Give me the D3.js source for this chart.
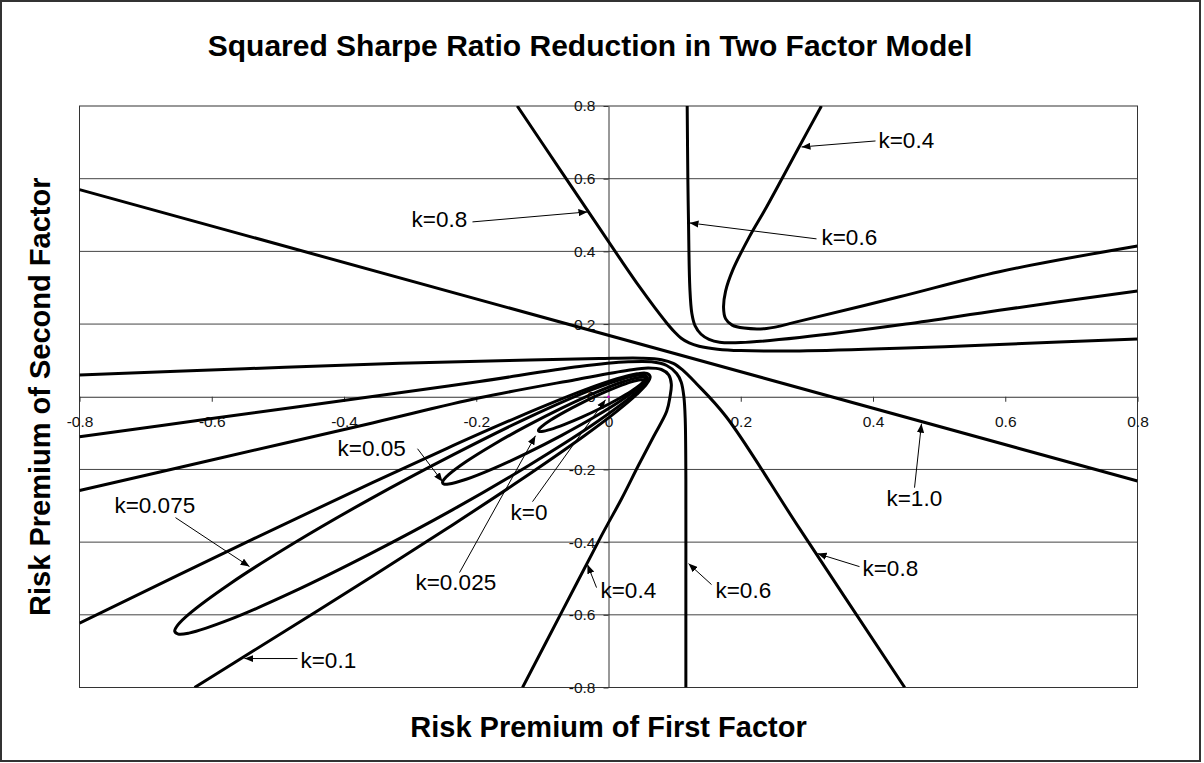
<!DOCTYPE html>
<html>
<head>
<meta charset="utf-8">
<script src="https://cdn.jsdelivr.net/npm/d3@7"></script>
<style>
  html, body { margin: 0; padding: 0; background: #fff; }
  svg { display: block; }
</style>
</head>
<body>
<svg id="chart" width="1204" height="763"></svg>
<script>
// ---------------- DATA ----------------
const xTicks = [-0.8, -0.6, -0.4, -0.2, 0, 0.2, 0.4, 0.6, 0.8];
const xTickLabels = ["-0.8", "-0.6", "-0.4", "-0.2", "0", "0.2", "0.4", "0.6", "0.8"];
const yTicks = [-0.8, -0.6, -0.4, -0.2, 0, 0.2, 0.4, 0.6, 0.8];
const yTickLabels = ["-0.8", "-0.6", "-0.4", "-0.2", "0", "0.2", "0.4", "0.6", "0.8"];
const gridY = [-0.6, -0.4, -0.2, 0.2, 0.4, 0.6];

// k = 1.0 (straight line)
const k10 = [[-0.8, 0.57], [0.8, -0.232]];

// k = 0.8 : upper branch and lower branch
const k08Upper = [[-0.138, 0.8], [-0.07, 0.616], [-0.02, 0.481], [0.02, 0.373], [0.047, 0.302],
  [0.07, 0.245], [0.088, 0.203], [0.1, 0.178], [0.11, 0.161], [0.122, 0.148], [0.137, 0.139],
  [0.165, 0.131], [0.2, 0.127], [0.289, 0.126], [0.45, 0.134], [0.591, 0.144], [0.8, 0.159]];
const k08Lower = [[-0.8, 0.06], [-0.55, 0.077], [-0.316, 0.092], [-0.15, 0.1], [-0.014, 0.105],
  [0.05, 0.106], [0.08, 0.102], [0.098, 0.092], [0.112, 0.074], [0.132, 0.038], [0.178, -0.055],
  [0.289, -0.363], [0.448, -0.8]];

// k = 0.6
const k06Upper = [[0.119, 0.8], [0.12, 0.6], [0.121, 0.48], [0.123, 0.3], [0.126, 0.23], [0.131, 0.195],
  [0.14, 0.172], [0.152, 0.158], [0.168, 0.15], [0.2, 0.149], [0.289, 0.163], [0.45, 0.2],
  [0.591, 0.238], [0.8, 0.291]];
const k06Lower = [[-0.8, -0.11], [-0.6, -0.06], [-0.316, 0.011], [-0.195, 0.042], [-0.044, 0.083],
  [0.03, 0.096], [0.065, 0.096], [0.088, 0.086], [0.103, 0.064], [0.11, 0.04], [0.114, 0.0],
  [0.116, -0.06], [0.117, -0.228], [0.117, -0.5], [0.117, -0.8]];

// k = 0.4
const k04Upper = [[0.322, 0.8], [0.289, 0.69], [0.239, 0.522], [0.213, 0.44], [0.188, 0.349],
  [0.177, 0.29], [0.174, 0.245], [0.177, 0.215], [0.187, 0.197], [0.205, 0.189], [0.239, 0.188],
  [0.289, 0.208], [0.44, 0.275], [0.591, 0.344], [0.8, 0.415]];
const k04Lower = [[-0.8, -0.258], [-0.6, -0.174], [-0.357, -0.072], [-0.195, -0.003], [-0.05, 0.047],
  [0.03, 0.073], [0.06, 0.079], [0.08, 0.075], [0.091, 0.06], [0.095, 0.035], [0.093, 0.0],
  [0.088, -0.04], [0.068, -0.11], [0.045, -0.19], [0.02, -0.28], [-0.01, -0.38], [-0.07, -0.59],
  [-0.13, -0.8]];

// k = 0.1 (open, leaves the plot at lower left)
const k01 = [[-0.8, -0.623], [-0.537, -0.391], [-0.357, -0.236], [-0.237, -0.136], [-0.137, -0.056],
  [-0.037, 0.018], [0.013, 0.0495], [0.043, 0.0631], [0.058, 0.0641], [0.063, 0.055], [0.058, 0.0359],
  [0.043, 0.0069], [0.013, -0.0395], [-0.037, -0.1079], [-0.137, -0.234], [-0.237, -0.354],
  [-0.357, -0.494], [-0.537, -0.699], [-0.626, -0.8]];

// k = 0.075 (closed)
const k0075 = [[0.059, 0.052], [0.0536, 0.0601], [0.0375, 0.0573], [-0.025, 0.0197], [-0.12, -0.056],
  [-0.236, -0.1606], [-0.3606, -0.2816], [-0.4773, -0.4045], [-0.5723, -0.5143], [-0.6345, -0.5979],
  [-0.6506, -0.6265], [-0.656, -0.645], [-0.6506, -0.6531], [-0.6345, -0.6503], [-0.5723, -0.6127],
  [-0.4773, -0.5371], [-0.3606, -0.4324], [-0.236, -0.3114], [-0.12, -0.1885], [-0.025, -0.0787],
  [0.0375, 0.0049], [0.0536, 0.0335]];

// k = 0.05 (closed)
const k005 = [[0.056, 0.0489], [0.0537, 0.0534], [0.0467, 0.0533], [0.0201, 0.040], [-0.0207, 0.0107],
  [-0.0708, -0.0313], [-0.1242, -0.0809], [-0.1743, -0.1319], [-0.2151, -0.1782], [-0.2417, -0.2143],
  [-0.2487, -0.2272], [-0.251, -0.2359], [-0.2487, -0.2404], [-0.2417, -0.2403], [-0.2151, -0.227],
  [-0.1743, -0.1977], [-0.1242, -0.1557], [-0.0708, -0.1061], [-0.0207, -0.0551], [0.0201, -0.0088],
  [0.0467, 0.0273], [0.0537, 0.0402]];

// k = 0.025 (closed)
const k0025 = [[0.053, 0.044], [0.0518, 0.0465], [0.0482, 0.0467], [0.0344, 0.0409], [0.0133, 0.0271],
  [-0.0127, 0.0071], [-0.0403, -0.0167], [-0.0663, -0.0415], [-0.0874, -0.0641], [-0.1012, -0.0821],
  [-0.1048, -0.0885], [-0.106, -0.093], [-0.1048, -0.0955], [-0.1012, -0.0957], [-0.0874, -0.0899],
  [-0.0663, -0.0761], [-0.0403, -0.0561], [-0.0127, -0.0323], [0.0133, -0.0075], [0.0344, 0.0151],
  [0.0482, 0.0331], [0.0518, 0.0395]];

// k = 0 (single point)
const k0 = [[0, 0]];

// annotation labels: text, text anchor (data units), arrow start and arrow tip (data units)
const annotations = [
  { text: "k=0.4",   t: [0.4083, 0.7065],   a: [0.4038, 0.7038],   b: [0.2919, 0.6873] },
  { text: "k=0.6",   t: [0.3221, 0.4399],   a: [0.3146, 0.4344],   b: [0.1225, 0.4784] },
  { text: "k=0.8",   t: [-0.2979, 0.4893],  a: [-0.2057, 0.4811],  b: [-0.0318, 0.5086] },
  { text: "k=1.0",   t: [0.4204, -0.2777],  a: [0.4628, -0.2502],  b: [0.4733, -0.0742] },
  { text: "k=0.8",   t: [0.3841, -0.4701],  a: [0.3796, -0.4674],  b: [0.3161, -0.4316] },
  { text: "k=0.6",   t: [0.1618, -0.5306],  a: [0.1558, -0.5168],  b: [0.121, -0.4591] },
  { text: "k=0.4",   t: [-0.0121, -0.5306], a: [-0.0181, -0.5251], b: [-0.0318, -0.4619] },
  { text: "k=0.025", t: [-0.2919, -0.5086], a: [-0.2253, -0.4838], b: [-0.1104, -0.1072] },
  { text: "k=0",     t: [-0.1482, -0.3162], a: [-0.1149, -0.2887], b: [-0.0045, -0.0082] },
  { text: "k=0.05",  t: [-0.4098, -0.1402], a: [-0.2888, -0.143],  b: [-0.251, -0.2337] },
  { text: "k=0.075", t: [-0.7471, -0.2969], a: [-0.6548, -0.3326], b: [-0.5429, -0.4674] },
  { text: "k=0.1",   t: [-0.4658, -0.723],  a: [-0.4703, -0.7203], b: [-0.5505, -0.7203] }
];

const openCurves = [k10, k08Upper, k08Lower, k06Upper, k06Lower, k04Upper, k04Lower, k01];
const closedCurves = [k0075, k005, k0025];

// ---------------- DRAW ----------------
const FONT = "'Liberation Sans', Arial, Helvetica, sans-serif";
const svg = d3.select("#chart");

const x = d3.scaleLinear().domain([-0.8, 0.8]).range([79.5, 1137.5]);
const y = d3.scaleLinear().domain([-0.8, 0.8]).range([687.5, 106]);

// outer chart border
svg.append("rect")
  .attr("x", 1).attr("y", 1).attr("width", 1199).attr("height", 760)
  .attr("fill", "#fff").attr("stroke", "#333").attr("stroke-width", 2);

// plot area
svg.append("defs").append("clipPath").attr("id", "plotclip")
  .append("rect")
  .attr("x", x(-0.8)).attr("y", y(0.8))
  .attr("width", x(0.8) - x(-0.8)).attr("height", y(-0.8) - y(0.8));

// horizontal gridlines
svg.append("g").selectAll("line").data(gridY).join("line")
  .attr("x1", x(-0.8)).attr("x2", x(0.8))
  .attr("y1", d => y(d)).attr("y2", d => y(d))
  .attr("stroke", "#444").attr("stroke-width", 1);

// plot border
svg.append("rect")
  .attr("x", x(-0.8)).attr("y", y(0.8))
  .attr("width", x(0.8) - x(-0.8)).attr("height", y(-0.8) - y(0.8))
  .attr("fill", "none").attr("stroke", "#333").attr("stroke-width", 1);

// axes through origin
const xAxis = d3.axisBottom(x).tickValues(xTicks).tickFormat((d, i) => xTickLabels[i])
  .tickSize(5).tickSizeOuter(0).tickPadding(14);
const yAxis = d3.axisLeft(y).tickValues(yTicks).tickFormat((d, i) => yTickLabels[i])
  .tickSize(5).tickSizeOuter(0).tickPadding(8);

const gx = svg.append("g").attr("transform", `translate(0,${y(0)})`).call(xAxis);
const gy = svg.append("g").attr("transform", `translate(${x(0)},0)`).call(yAxis);
[gx, gy].forEach(g => {
  g.attr("font-family", FONT).attr("font-size", "15.5px");
  g.selectAll(".domain").attr("stroke", "#333").attr("stroke-width", 1);
  g.selectAll(".tick line").attr("stroke", "#333");
  g.selectAll(".tick text").attr("fill", "#111");
});

// curves
const lineOpen = d3.line().x(d => x(d[0])).y(d => y(d[1])).curve(d3.curveCatmullRom.alpha(0.5));
const lineClosed = d3.line().x(d => x(d[0])).y(d => y(d[1])).curve(d3.curveCatmullRomClosed.alpha(0.5));

const gc = svg.append("g").attr("clip-path", "url(#plotclip)");
gc.selectAll("path.open").data(openCurves).join("path")
  .attr("class", "open")
  .attr("d", d => lineOpen(d))
  .attr("fill", "none").attr("stroke", "#000").attr("stroke-width", 3)
  .attr("stroke-linejoin", "round");
gc.selectAll("path.closed").data(closedCurves).join("path")
  .attr("class", "closed")
  .attr("d", d => lineClosed(d))
  .attr("fill", "none").attr("stroke", "#000").attr("stroke-width", 3)
  .attr("stroke-linejoin", "round");
gc.selectAll("circle.k0").data(k0).join("circle")
  .attr("class", "k0")
  .attr("cx", d => x(d[0])).attr("cy", d => y(d[1]))
  .attr("r", 1.3).attr("fill", "#cc00cc");

// arrow marker
svg.select("defs").append("marker")
  .attr("id", "arrow").attr("markerUnits", "userSpaceOnUse")
  .attr("viewBox", "0 0 10 8").attr("refX", 10).attr("refY", 4)
  .attr("markerWidth", 9).attr("markerHeight", 7.5).attr("orient", "auto")
  .append("path").attr("d", "M0,0 L10,4 L0,8 Z").attr("fill", "#000");

// annotations
const ga = svg.append("g");
ga.selectAll("line").data(annotations).join("line")
  .attr("x1", d => x(d.a[0])).attr("y1", d => y(d.a[1]))
  .attr("x2", d => x(d.b[0])).attr("y2", d => y(d.b[1]))
  .attr("stroke", "#000").attr("stroke-width", 1)
  .attr("marker-end", "url(#arrow)");
ga.selectAll("text").data(annotations).join("text")
  .attr("x", d => x(d.t[0])).attr("y", d => y(d.t[1]))
  .attr("dy", "0.36em")
  .attr("font-family", FONT).attr("font-size", "22.5px").attr("fill", "#000")
  .text(d => d.text);

// titles
svg.append("text")
  .attr("x", 590).attr("y", 56).attr("text-anchor", "middle")
  .attr("font-family", FONT).attr("font-weight", "bold").attr("font-size", "30px")
  .text("Squared Sharpe Ratio Reduction in Two Factor Model");
svg.append("text")
  .attr("x", (x(-0.8) + x(0.8)) / 2).attr("y", 737).attr("text-anchor", "middle")
  .attr("font-family", FONT).attr("font-weight", "bold").attr("font-size", "29px")
  .text("Risk Premium of First Factor");
svg.append("text")
  .attr("transform", `translate(49.5,${(y(-0.8) + y(0.8)) / 2}) rotate(-90)`)
  .attr("text-anchor", "middle")
  .attr("font-family", FONT).attr("font-weight", "bold").attr("font-size", "29px")
  .text("Risk Premium of Second Factor");
</script>
</body>
</html>
